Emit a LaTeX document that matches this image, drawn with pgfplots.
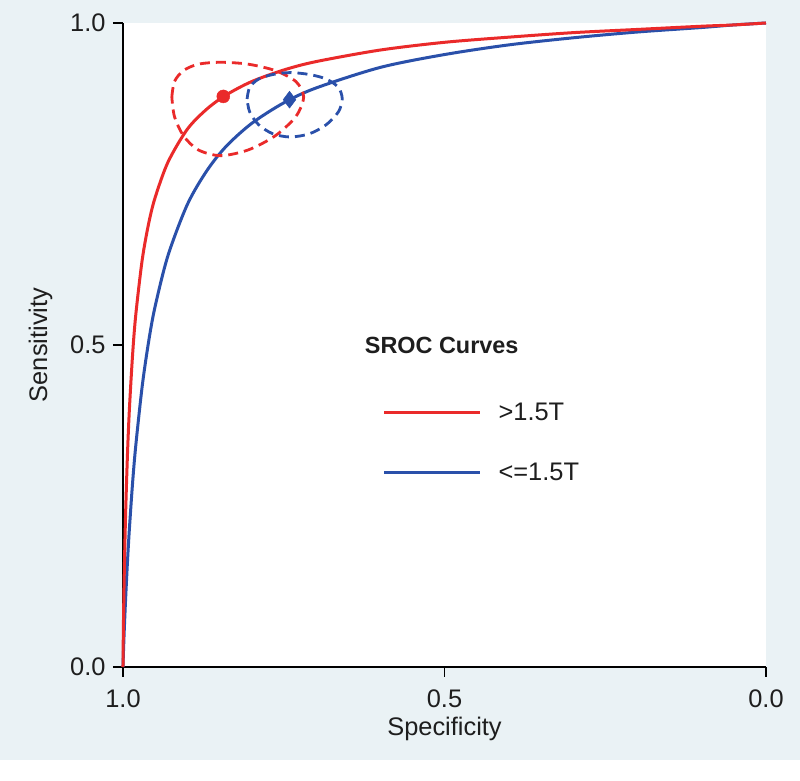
\documentclass[border=0pt]{standalone}
\usepackage{pgfplots}
\pgfplotsset{compat=1.18}
\usepackage{fontspec}
\setmainfont{Liberation Sans}
\definecolor{bgc}{RGB}{234,242,245}
\definecolor{sred}{RGB}{234,42,42}
\definecolor{sblue}{RGB}{42,80,170}
\definecolor{txt}{RGB}{30,30,30}
\begin{document}
\begin{tikzpicture}
\fill[bgc] (-123bp,-114bp) rectangle (677bp,667bp);
\fill[white] (-123bp,-114bp) rectangle (677bp,-93bp);
\begin{axis}[
 at={(0,0)}, anchor=south west,
 scale only axis, width=643bp, height=644bp,
 xmin=0, xmax=1, ymin=0, ymax=1, x dir=reverse,
 axis x line*=bottom, axis y line*=left,
 axis line style={line width=1.5bp, black},
 axis background/.style={fill=white},
 xtick={0,0.5,1}, ytick={0,0.5,1},
 tick align=outside, major tick length=10bp,
 every tick/.style={black, line width=1.5bp},
 /pgf/number format/.cd, fixed, fixed zerofill, precision=1, assume math mode=true,
 /pgfplots/.cd,
 tick label style={font=\fontsize{25.5}{25.5}\selectfont, text=txt},
 xticklabel style={yshift=-9bp},
 yticklabel style={xshift=-4bp},
 xlabel={Specificity}, ylabel={Sensitivity},
 label style={font=\fontsize{25.5}{25.5}\selectfont, text=txt},
 xlabel style={at={(axis description cs:0.5,-0.106)}, anchor=base},
 ylabel style={at={(axis description cs:-0.118,0.5)}, anchor=base, rotate=0},
 clip=false,
 reverse legend,
 legend style={at={(rel axis cs:0.4034,0.3486)}, anchor=west, draw=none, fill=none,
   inner sep=0pt, row sep=42bp, font=\fontsize{25.5}{25.5}\selectfont, text=txt,
   nodes={inner sep=0pt}, /tikz/every odd column/.append style={column sep=17bp}},
 legend cell align=left,
 legend image code/.code={\draw[#1] (0bp,0bp) -- (96bp,0bp);},
]
% blue SROC curve
\addplot[sblue, line width=3bp, smooth, tension=0.5] coordinates {
(1.0,0) (0.9999,0.0038) (0.9995,0.0166) (0.999,0.031) (0.998,0.058) (0.996,0.104)
(0.993,0.164) (0.99,0.215) (0.985,0.287) (0.98,0.345) (0.97,0.437) (0.96,0.506)
(0.95,0.560) (0.93,0.639) (0.90,0.718) (0.87,0.770) (0.84,0.808) (0.80,0.844)
(0.75,0.876) (0.70,0.899) (0.60,0.931) (0.50,0.951) (0.40,0.966) (0.30,0.977)
(0.20,0.986) (0.10,0.993) (0.05,0.997) (0.0,1.0)};
\addlegendentry{<=1.5T}
% red SROC curve
\addplot[sred, line width=3bp, smooth, tension=0.5] coordinates {
(1.0,0) (0.9999,0.0135) (0.9995,0.0505) (0.999,0.087) (0.998,0.146) (0.996,0.235)
(0.993,0.331) (0.99,0.401) (0.985,0.486) (0.98,0.548) (0.97,0.633) (0.96,0.689)
(0.95,0.729) (0.93,0.784) (0.90,0.835) (0.87,0.866) (0.84,0.888) (0.80,0.909)
(0.75,0.927) (0.70,0.940) (0.60,0.958) (0.50,0.970) (0.40,0.978) (0.30,0.985)
(0.20,0.990) (0.10,0.995) (0.05,0.997) (0.0,1.0)};
\addlegendentry{>1.5T}
% confidence regions
\addplot[sred, line width=2.8bp, dash pattern=on 10bp off 6bp, smooth, forget plot] coordinates {
(0.924,0.885) (0.920,0.909) (0.906,0.926) (0.883,0.936) (0.848,0.939) (0.805,0.936)
(0.763,0.926) (0.731,0.909) (0.719,0.885) (0.731,0.855) (0.763,0.825) (0.805,0.803)
(0.848,0.794) (0.883,0.803) (0.906,0.825) (0.920,0.855) (0.924,0.885)};
\addplot[sblue, line width=2.8bp, dash pattern=on 10bp off 6bp, smooth, forget plot] coordinates {
(0.807,0.882) (0.803,0.900) (0.789,0.913) (0.767,0.920) (0.740,0.923) (0.710,0.920)
(0.684,0.913) (0.665,0.900) (0.659,0.882) (0.665,0.862) (0.684,0.842) (0.710,0.828)
(0.740,0.823) (0.767,0.828) (0.789,0.842) (0.803,0.862) (0.807,0.882)};
% summary points
\addplot[only marks, mark=*, mark size=6.5bp, color=sred, forget plot] coordinates {(0.844,0.886)};
\addplot[only marks, mark=diamond*, mark size=8.5bp, color=sblue, forget plot] coordinates {(0.741,0.881)};
\node[anchor=west, inner sep=0pt, text=txt, font=\bfseries\fontsize{23.5}{23.5}\selectfont] at (rel axis cs:0.376,0.5) {SROC Curves};
\end{axis}
\end{tikzpicture}
\end{document}
